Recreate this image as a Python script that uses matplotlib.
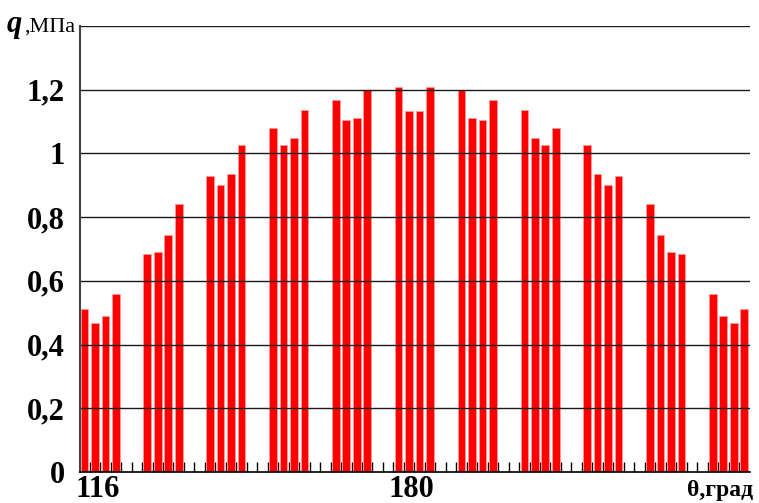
import numpy as np
import matplotlib.pyplot as plt

# Contact pressure per roller, 11 groups of 4 bars
group_1 = [0.513, 0.468, 0.489, 0.560]
group_2 = [0.683, 0.691, 0.745, 0.840]
group_3 = [0.930, 0.902, 0.935, 1.027]
group_4 = [1.080, 1.027, 1.047, 1.136]
group_5 = [1.169, 1.105, 1.112, 1.200]
group_6 = [1.209, 1.133, 1.133, 1.209]
group_7 = [1.200, 1.112, 1.105, 1.169]
group_8 = [1.136, 1.047, 1.027, 1.080]
group_9 = [1.027, 0.935, 0.902, 0.930]
group_10 = [0.840, 0.745, 0.691, 0.683]
group_11 = [0.560, 0.489, 0.468, 0.513]
groups = [group_1, group_2, group_3, group_4, group_5, group_6,
          group_7, group_8, group_9, group_10, group_11]

theta_start = 116   # first bar angle, grad
step = 2            # one slot = 2 grad
gap_slots = 2       # empty slots between groups

y_ticks = [0, 0.2, 0.4, 0.6, 0.8, 1.0, 1.2]
y_labels = ["0", "0,2", "0,4", "0,6", "0,8", "1", "1,2"]
x_labels = ["116", "180"]
x_label_pos = [118.6, 178.5]

# bar positions
theta = []
q = []
slot = 0
for g in groups:
    for v in g:
        theta.append(theta_start + step * slot)
        q.append(v)
        slot += 1
    slot += gap_slots
theta = np.array(theta)
q = np.array(q)

fig = plt.figure(figsize=(7.59, 5.03), dpi=100)
ax = fig.add_axes([80 / 759, 31 / 503, 670 / 759, 446 / 503])

ax.bar(theta, q, width=1.45, color="#ff0000", edgecolor="#ff9a9a",
       linewidth=0.6, zorder=2)

ax.set_xlim(115.15, 243.1)
ax.set_ylim(0, 1.4)

# horizontal grid drawn above bars
for yv in y_ticks[1:] + [1.4]:
    ax.axhline(yv, color="#1a1a1a", lw=1.0, zorder=3)

ax.spines["right"].set_visible(False)
ax.spines["top"].set_visible(False)
ax.spines["left"].set_color("#444444")
ax.spines["left"].set_linewidth(1.5)
ax.spines["bottom"].set_color("black")
ax.spines["bottom"].set_linewidth(1.2)
ax.spines["left"].set_zorder(4)
ax.spines["bottom"].set_zorder(4)

ax.set_yticks(y_ticks)
ax.set_yticklabels(y_labels, fontfamily="Liberation Serif",
                   fontweight="bold", fontsize=22)
ax.tick_params(axis="y", length=0, pad=11)

# small inward ticks on slot boundaries
ax.set_xticks(np.arange(117, 242, 2))
ax.set_xticklabels([])
ax.tick_params(axis="x", direction="in", length=7.5, width=1.0,
               color="black", zorder=5)

for lbl, xp in zip(x_labels, x_label_pos):
    ax.text(xp, -25 / 446, lbl, transform=ax.get_xaxis_transform(),
            ha="center", va="baseline", fontfamily="Liberation Serif",
            fontweight="bold", fontsize=22)

fig.text(753 / 759, 1 - 496 / 503, "θ,град", ha="right", va="baseline",
         fontfamily="Liberation Serif", fontweight="bold", fontsize=17)

fig.text(7 / 759, 1 - 32 / 503, "q", ha="left", va="baseline",
         fontfamily="Liberation Serif", fontweight="bold", style="italic",
         fontsize=22)
fig.text(24 / 759, 1 - 32 / 503, ",МПа", ha="left", va="baseline",
         fontfamily="Liberation Serif", fontsize=16)

fig.savefig("out.png", dpi=100)
